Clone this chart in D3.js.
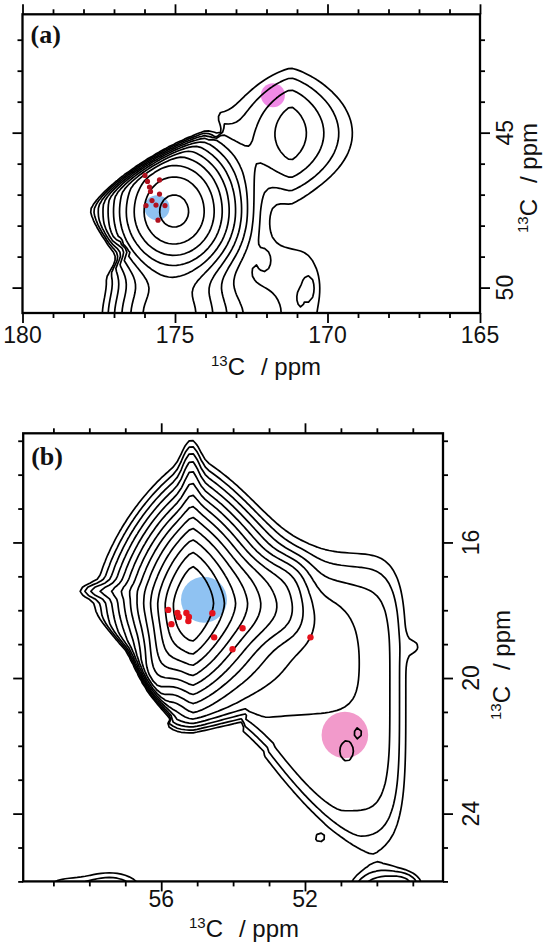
<!DOCTYPE html>
<html>
<head>
<meta charset="utf-8">
<script src="https://cdn.jsdelivr.net/npm/d3@7"></script>
<style>
  body { margin: 0; background: #fff; }
  text { font-family: "Liberation Sans", Arial, sans-serif; fill: #111; }
  .plabel { font-family: "Liberation Serif", "Times New Roman", serif; font-weight: bold; }
</style>
</head>
<body>
<svg id="chart" width="552" height="947"></svg>
<script>
// contour levels grow by this factor, lowest level = 1
var levelRatio = 1.4;

// ---------- panel (a) ----------
var aXDomain = [180, 165];
var aYDomain = [41.18, 50.82];
var aXTicks = [180, 175, 170, 165];
var aYTicks = [45, 50];
var aLevelCount = 11;
// peak: x, y (ppm), width left, right, up, down (ppm), height (in levels), shape x, shape y, angle, cut applies
var aPeaks = [
  [175.03, 47.55, 1.05, 1.05, 1.19, 1.10, 10.3, 2, 2, 0, 1],
  [171.20, 45.02, 1.02, 1.02, 1.35, 1.35, 3.6, 1.3, 2, 0, 1],
  [175.33, 50.98, 1.05, 1.44, 0.95, 1.29, 5.6, 2, 2, 0, 1],
  [171.07, 50.40, 1.50, 0.92, 1.94, 2.00, 0.6, 3, 3, 0, 1],
  [172.05, 49.05, 0.16, 0.16, 0.26, 0.26, -2.4, 2, 2, 0, 1],
  [170.57, 50.01, 0.20, 0.20, 0.39, 0.39, -2.4, 2, 2, 0, 1],
  [170.90, 50.34, 0.06, 0.06, 0.16, 0.16, -2.8, 2, 2, 0, 1],
  [170.15, 48.53, 0.07, 0.07, 0.23, 0.23, -1.5, 2, 2, 0, 1]
];
// edge where the signal is cut off (left of the main peak)
var aCut = [[176.97, 48.27], [177.65, 47.53], [174.02, 45.35]];
var aCutWidth = [9, 8];
var aBlue = [175.59, 47.42];
var aPink = [171.79, 43.79];
var aDots = [
  [175.984, 46.38], [175.902, 46.575], [175.836, 46.753], [175.803, 46.899],
  [175.508, 46.526], [175.508, 46.981], [175.754, 47.192], [175.951, 47.354],
  [175.623, 47.338], [175.328, 47.354], [175.557, 47.825]
];

// ---------- panel (b) ----------
var bXDomain = [59.84, 48.16];
var bYDomain = [12.78, 26.0];
var bXTicks = [56, 52];
var bYTicks = [16, 20, 24];
var bLevelCount = 13;
var bPeaks = [
  [55.13, 17.80, 0.50, 0.57, 1.10, 1.05, 13.4, 1.3, 1.6, 0, 1],
  [55.81, 19.17, 1.10, 1.10, 0.40, 0.40, 7.0, 2, 2, 114, 1],
  [55.17, 14.16, 0.17, 0.17, 0.74, 1.18, 2.0, 2, 2, 0, 1],
  [57.70, 17.43, 0.42, 0.83, 0.15, 0.15, 1.2, 2, 2, 0, 1],
  [52.98, 17.70, 1.00, 0.75, 0.85, 0.85, 4.2, 3, 3, 0, 1],
  [50.89, 20.35, 3.50, 1.44, 3.40, 4.10, 2.85, 4, 4, 0, 1],
  [52.14, 19.18, 1.50, 1.25, 1.50, 1.39, -1.5, 4, 4, 0, 1],
  [50.52, 21.63, 0.07, 0.07, 0.12, 0.12, -3.0, 2, 2, 0, 1],
  [50.84, 22.19, 0.16, 0.16, 0.26, 0.26, -3.0, 2, 2, 0, 1],
  [48.86, 19.08, 0.20, 0.20, 0.30, 0.30, -1.3, 2, 2, 0, 0],
  [48.92, 17.44, 0.04, 0.04, 0.06, 0.06, -0.5, 2, 2, 0, 0],
  [51.61, 24.74, 0.15, 0.15, 0.15, 0.15, -0.3, 2, 2, 0, 0],
  [57.42, 26.30, 0.70, 0.70, 0.44, 0.44, 2.3, 2, 2, 0, 0],
  [50.05, 26.26, 0.55, 0.55, 0.40, 0.40, 2.3, 2, 2, 0, 0],
  [49.22, 26.11, 0.40, 0.40, 0.30, 0.30, 1.5, 2, 2, 0, 0],
  [58.80, 26.20, 0.50, 0.50, 0.30, 0.30, 0.3, 2, 2, 0, 0]
];
var bCut = [[49.70, 25.60], [52.56, 21.68], [53.53, 20.64], [55.54, 21.12],
            [56.79, 19.03], [58.12, 17.70], [59.93, 17.25]];
var bCutWidth = [22, 20, 14, 6, 6, 8];
var bBlue = [54.81, 17.69];
var bPink = [50.89, 21.68];
var bDots = [
  [55.806, 17.99], [55.717, 18.41], [55.55, 18.08], [55.508, 18.2],
  [55.30, 18.08], [55.231, 18.2], [55.245, 18.32], [54.577, 18.09],
  [53.737, 18.53], [54.527, 18.8], [54.016, 19.15], [51.847, 18.8]
];

var svg = d3.select("#chart");

function cutFactor(C, widths, gx, gy) {
  var best = Infinity, side = 0, fade = 1, w = widths[0];
  for (var k = 0; k < C.length - 1; k++) {
    var ax = C[k][0], ay = C[k][1], vx = C[k + 1][0] - ax, vy = C[k + 1][1] - ay;
    var L = Math.hypot(vx, vy);
    var t = ((gx - ax) * vx + (gy - ay) * vy) / (L * L);
    var tc = Math.max(0, Math.min(1, t));
    var d = Math.hypot(gx - ax - tc * vx, gy - ay - tc * vy);
    if (d < best) {
      best = d;
      w = widths[k];
      side = (vx * (gy - ay) - vy * (gx - ax)) < 0 ? 1 : 0;
      var over = 0;
      if (k === 0 && t < 0) over = -t * L;
      if (k === C.length - 2 && t > 1) over = (t - 1) * L;
      fade = Math.max(0, 1 - over / 25);
    }
  }
  if (!side) return 1;
  return Math.exp(-0.5 * Math.pow(best / w, 2) * fade);
}

function drawPanel(o) {
  var x = d3.scaleLinear().domain(o.xDomain).range([o.left, o.right]);
  var y = d3.scaleLinear().domain(o.yDomain).range([o.top, o.bottom]);
  var g = svg.append("g");
  var clipId = "clip" + o.name;
  g.append("clipPath").attr("id", clipId).append("rect")
    .attr("x", o.left).attr("y", o.top)
    .attr("width", o.right - o.left).attr("height", o.bottom - o.top);

  // shaded assignment circles
  g.append("circle").attr("cx", x(o.blue[0])).attr("cy", y(o.blue[1])).attr("r", o.blueR)
    .attr("fill", "#8fc2f2");
  g.append("circle").attr("cx", x(o.pink[0])).attr("cy", y(o.pink[1])).attr("r", o.pinkR)
    .attr("fill", o.pinkColor);

  // contour field on a coarse grid
  var step = 4;
  var x0 = o.left - 3 * step, y0 = o.top - 3 * step;
  var nx = Math.ceil((o.right - o.left) / step) + 6, ny = Math.ceil((o.bottom - o.top) / step) + 6;
  var kx = Math.abs(x(1) - x(0)), ky = Math.abs(y(1) - y(0));
  var P = o.peaks.map(function(p) {
    return {cx: x(p[0]), cy: y(p[1]), sl: p[2] * kx, sr: p[3] * kx, su: p[4] * ky, sd: p[5] * ky,
      amp: Math.pow(levelRatio, p[6]), ex: p[7], ey: p[8], a: p[9] * Math.PI / 180, cut: p[10]};
  });
  var C = o.cut.map(function(c) { return [x(c[0]), y(c[1])]; });
  var values = new Array(nx * ny);
  for (var j = 0; j < ny; j++) {
    for (var i = 0; i < nx; i++) {
      var gx = x0 + (i + 0.5) * step, gy = y0 + (j + 0.5) * step, vc = 0, vf = 0;
      P.forEach(function(p) {
        var dx = gx - p.cx, dy = gy - p.cy;
        var rx = dx * Math.cos(p.a) + dy * Math.sin(p.a);
        var ry = -dx * Math.sin(p.a) + dy * Math.cos(p.a);
        var u = Math.abs(rx) / (rx < 0 ? p.sl : p.sr);
        var w = Math.abs(ry) / (ry < 0 ? p.su : p.sd);
        var v = p.amp * Math.exp(-0.5 * (Math.pow(u, p.ex) + Math.pow(w, p.ey)));
        if (p.cut) vc += v; else vf += v;
      });
      values[j * nx + i] = vc * cutFactor(C, o.cutWidth, gx, gy) + vf;
    }
  }
  var levels = d3.range(o.levelCount).map(function(k) { return Math.pow(levelRatio, k); });
  var contours = d3.contours().size([nx, ny]).thresholds(levels)(values);
  var path = d3.geoPath(d3.geoIdentity().scale(step).translate([x0, y0]));
  g.append("g").attr("clip-path", "url(#" + clipId + ")")
    .selectAll("path").data(contours).enter().append("path")
    .attr("d", path).attr("fill", "none").attr("stroke", "#000")
    .attr("stroke-width", 1.7).attr("stroke-linejoin", "round");

  // assigned cross peaks
  g.append("g").selectAll("circle").data(o.dots).enter().append("circle")
    .attr("cx", function(d) { return x(d[0]); }).attr("cy", function(d) { return y(d[1]); })
    .attr("r", o.dotR).attr("fill", o.dotColor);

  // frame and ticks
  var xr = d3.range(Math.ceil(Math.min.apply(null, o.xDomain)), Math.floor(Math.max.apply(null, o.xDomain)) + 1);
  var yr = d3.range(Math.ceil(o.yDomain[0]), Math.floor(o.yDomain[1]) + 1);
  [[d3.axisBottom(x), "translate(0," + o.bottom + ")", xr, o.xTicks],
   [d3.axisTop(x), "translate(0," + o.top + ")", xr, o.xTicks],
   [d3.axisLeft(y), "translate(" + o.left + ",0)", yr, o.yTicks],
   [d3.axisRight(y), "translate(" + o.right + ",0)", yr, o.yTicks]].forEach(function(a) {
    var minor = a[2].filter(function(v) { return a[3].indexOf(v) < 0; });
    var ga = g.append("g").attr("transform", a[1])
      .call(a[0].tickValues(minor).tickSize(5).tickFormat(""));
    ga.select(".domain").remove();
    var gb = g.append("g").attr("transform", a[1])
      .call(a[0].tickValues(a[3]).tickSize(10).tickFormat(""));
    gb.select(".domain").remove();
    g.selectAll(".tick line").attr("stroke", "#000").attr("stroke-width", 1.8);
  });
  g.append("rect").attr("x", o.left).attr("y", o.top)
    .attr("width", o.right - o.left).attr("height", o.bottom - o.top)
    .attr("fill", "none").attr("stroke", "#000").attr("stroke-width", 2.3);

  // tick labels
  g.selectAll(".xl").data(o.xTicks).enter().append("text")
    .attr("x", function(d) { return x(d); }).attr("y", o.bottom + o.xLabelDy)
    .attr("text-anchor", "middle").attr("font-size", 23).text(function(d) { return d; });
  g.selectAll(".yl").data(o.yTicks).enter().append("text")
    .attr("transform", function(d) { return "translate(" + (o.right + o.yLabelDx) + "," + y(d) + ") rotate(-90)"; })
    .attr("text-anchor", "middle").attr("font-size", 23).text(function(d) { return d; });

  // axis titles
  function title(t) {
    t.attr("text-anchor", "middle").attr("font-size", 24);
    t.append("tspan").attr("font-size", 15).attr("dy", -9).text("13");
    t.append("tspan").attr("dy", 9).text("C");
    t.append("tspan").attr("dx", 16).text("/ ppm");
  }
  g.append("text").attr("x", o.xTitle[0]).attr("y", o.xTitle[1]).call(title);
  g.append("text").attr("transform", "translate(" + o.yTitle[0] + "," + o.yTitle[1] + ") rotate(-90)").call(title);

  g.append("text").attr("class", "plabel").attr("x", o.left + 8).attr("y", o.labelY)
    .attr("font-size", 26).text(o.label);
}

drawPanel({
  name: "a", label: "(a)", left: 22.5, right: 480, top: 14.3, bottom: 313,
  xDomain: aXDomain, yDomain: aYDomain, xTicks: aXTicks, yTicks: aYTicks,
  levelCount: aLevelCount, peaks: aPeaks, cut: aCut, cutWidth: aCutWidth,
  blue: aBlue, blueR: 12.5, pink: aPink, pinkR: 12, pinkColor: "#f08ae6",
  dots: aDots, dotColor: "#b0101e", dotR: 2.6,
  xLabelDy: 30, yLabelDx: 33, xTitle: [266, 375], yTitle: [537, 178], labelY: 43
});

drawPanel({
  name: "b", label: "(b)", left: 23.2, right: 443, top: 433.3, bottom: 881.4,
  xDomain: bXDomain, yDomain: bYDomain, xTicks: bXTicks, yTicks: bYTicks,
  levelCount: bLevelCount, peaks: bPeaks, cut: bCut, cutWidth: bCutWidth,
  blue: bBlue, blueR: 23, pink: bPink, pinkR: 23.3, pinkColor: "#f29acb",
  dots: bDots, dotColor: "#e5121c", dotR: 3.2,
  xLabelDy: 26, yLabelDx: 36, xTitle: [244, 937], yTitle: [510, 665], labelY: 465
});
</script>
</body>
</html>
